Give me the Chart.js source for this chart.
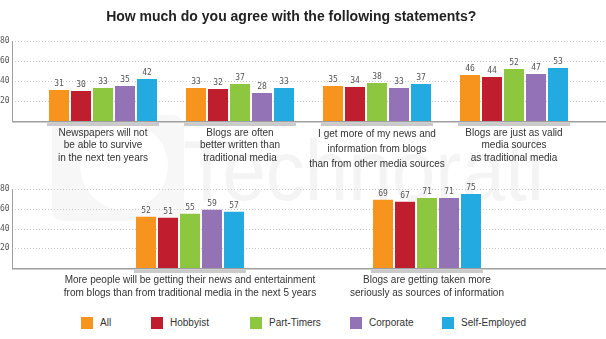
<!DOCTYPE html>
<html>
<head>
<meta charset="utf-8">
<script src="https://cdn.jsdelivr.net/npm/chart.js"></script>
<style>
  body { margin: 0; background: #fff; width: 606px; height: 339px; overflow: hidden; position: relative;
         font-family: "Liberation Sans", Arial, sans-serif; }
  canvas { position: absolute; left: 0; }
  #topChart { top: 0; }
  #bottomChart { top: 172px; }
  .mark { position: absolute; color: #f4f4f4; }
  #markText { left: 183px; top: 127px; font-size: 86px; line-height: 1; transform: scaleX(0.91); transform-origin: left top; }
  #markBox { left: 52px; top: 115px; width: 132px; height: 106px; border-radius: 12px; background: #f7f7f7; }
  #markHole { left: 80px; top: 122px; width: 88px; height: 88px; border-radius: 50%; background: #fff; }
  #legend { position: absolute; left: 0; top: 317px; width: 606px; height: 14px; font-size: 10px; color: #333; }
  .item { position: absolute; top: 0; height: 12px; line-height: 12px; white-space: nowrap; }
  .swatch { display: inline-block; width: 12px; height: 12px; vertical-align: top; margin-right: 7px; }
</style>
</head>
<body>
<div class="mark" id="markBox"></div>
<div class="mark" id="markHole"></div>
<div class="mark" id="markText">Technorati</div>
<canvas id="topChart" width="606" height="172"></canvas>
<canvas id="bottomChart" width="606" height="133"></canvas>
<div id="legend"></div>
<script>
// respondent groups
var groups = ["All", "Hobbyist", "Part-Timers", "Corporate", "Self-Employed"];
var groupColors = ["#F7941E", "#BE1E2D", "#8DC63F", "#9372B6", "#23AAE1"];

// statements shown in the upper row
var topStatements = [
  ["Newspapers will not", "be able to survive", "in the next ten years"],
  ["Blogs are often", "better written than", "traditional media"],
  ["I get more of my news and", "information from blogs", "than from other media sources"],
  ["Blogs are just as valid", "media sources", "as traditional media"]
];
var allTop = [31, 33, 35, 46];
var hobbyistTop = [30, 32, 34, 44];
var partTimersTop = [33, 37, 38, 52];
var corporateTop = [35, 28, 33, 47];
var selfEmployedTop = [42, 33, 37, 53];

// statements shown in the lower row
var bottomStatements = [
  ["More people will be getting their news and entertainment", "from blogs than from traditional media in the next 5 years"],
  ["Blogs are getting taken more", "seriously as sources of information"]
];
var allBottom = [52, 69];
var hobbyistBottom = [51, 67];
var partTimersBottom = [55, 71];
var corporateBottom = [59, 71];
var selfEmployedBottom = [57, 75];

var yTicks = [20, 40, 60, 80];

// legend item left edges
var legendX = [81, 151, 250, 350, 442];

var AXIS_X = 12;

// dotted grid, axis lines, group underlines and value labels
var panelDecor = {
  id: 'panelDecor',
  beforeDatasetsDraw: function(chart) {
    var ctx = chart.ctx, y = chart.scales.y, right = chart.width;
    var base = y.getPixelForValue(0);
    ctx.save();
    ctx.strokeStyle = '#cccccc';
    ctx.lineWidth = 1;
    ctx.setLineDash([1, 2]);
    yTicks.forEach(function(v) {
      var py = Math.round(y.getPixelForValue(v)) + 0.5;
      ctx.beginPath(); ctx.moveTo(AXIS_X, py); ctx.lineTo(right, py); ctx.stroke();
    });
    ctx.setLineDash([]);
    ctx.strokeStyle = '#9f9f9f';
    ctx.beginPath();
    ctx.moveTo(AXIS_X + 0.5, y.getPixelForValue(yTicks[yTicks.length - 1]));
    ctx.lineTo(AXIS_X + 0.5, base);
    ctx.stroke();
    ctx.lineWidth = 1.5;
    ctx.beginPath(); ctx.moveTo(AXIS_X, base + 0.75); ctx.lineTo(right, base + 0.75); ctx.stroke();
    ctx.restore();
  },
  afterDatasetsDraw: function(chart) {
    var ctx = chart.ctx, base = chart.scales.y.getPixelForValue(0);
    var first = chart.getDatasetMeta(0).data;
    var last = chart.getDatasetMeta(chart.data.datasets.length - 1).data;
    ctx.save();
    ctx.fillStyle = '#cacaca';
    first.forEach(function(bar, i) {
      var l = bar.x - bar.width / 2 - 2, r = last[i].x + last[i].width / 2 + 2;
      ctx.fillRect(l, base + 2, r - l, 3);
    });
    ctx.font = '8px "DejaVu Sans Mono", monospace';
    ctx.fillStyle = '#555';
    ctx.textAlign = 'center';
    ctx.textBaseline = 'bottom';
    chart.data.datasets.forEach(function(ds, d) {
      chart.getDatasetMeta(d).data.forEach(function(bar, i) {
        ctx.fillText(ds.data[i], bar.x, bar.y - 2);
      });
    });
    ctx.restore();
  }
};

function makeDatasets(rows, catPct) {
  return rows.map(function(values, i) {
    return {
      label: groups[i],
      data: values,
      backgroundColor: groupColors[i],
      borderWidth: 0,
      categoryPercentage: catPct,
      barPercentage: 0.91
    };
  });
}

function makeOptions(cfg) {
  return {
    responsive: false,
    animation: false,
    layout: { padding: { top: cfg.padTop, right: cfg.padRight, left: 0, bottom: 0 } },
    plugins: {
      legend: { display: false },
      tooltip: { enabled: false },
      title: cfg.title
    },
    scales: {
      x: {
        grid: { display: false, drawTicks: false },
        border: { display: false },
        afterFit: function(scale) { scale.height = cfg.xHeight; },
        ticks: {
          autoSkip: false,
          maxRotation: 0,
          padding: 5.5,
          color: '#333',
          font: function(c) {
            return { family: '"Liberation Sans", Arial, sans-serif', size: 10, lineHeight: cfg.lineHeights[c.index] || 1.27 };
          }
        }
      },
      y: {
        min: 0,
        max: 80,
        grid: { display: false, drawTicks: false },
        border: { display: false },
        afterFit: function(scale) { scale.width = cfg.yWidth; },
        ticks: {
          stepSize: 20,
          padding: 0,
          crossAlign: 'far',
          color: '#555',
          font: { family: '"DejaVu Sans Mono", monospace', size: 8 },
          callback: function(v) { return v === 0 ? '' : v; }
        }
      }
    }
  };
}

new Chart(document.getElementById('topChart'), {
  type: 'bar',
  data: {
    labels: topStatements,
    datasets: makeDatasets([allTop, hobbyistTop, partTimersTop, corporateTop, selfEmployedTop], 0.803)
  },
  options: makeOptions({
    padTop: 0, padRight: 23.5, yWidth: 34.5, xHeight: 51,
    lineHeights: [1.27, 1.27, 1.5, 1.27],
    title: {
      display: true,
      text: 'How much do you agree with the following statements?',
      color: '#222',
      font: { family: '"Liberation Sans", Arial, sans-serif', size: 14, weight: 'bold' },
      padding: { top: 8.6, bottom: 15.6 }
    }
  }),
  plugins: [panelDecor]
});

new Chart(document.getElementById('bottomChart'), {
  type: 'bar',
  data: {
    labels: bottomStatements,
    datasets: makeDatasets([allBottom, hobbyistBottom, partTimersBottom, corporateBottom, selfEmployedBottom], 0.464)
  },
  options: makeOptions({
    padTop: 17, padRight: 60.5, yWidth: 71.5, xHeight: 37,
    lineHeights: [1.3, 1.3],
    title: { display: false }
  }),
  plugins: [panelDecor]
});

// legend row
var legend = document.getElementById('legend');
groups.forEach(function(name, i) {
  var item = document.createElement('div');
  item.className = 'item';
  item.style.left = legendX[i] + 'px';
  var sw = document.createElement('span');
  sw.className = 'swatch';
  sw.style.background = groupColors[i];
  item.appendChild(sw);
  item.appendChild(document.createTextNode(name));
  legend.appendChild(item);
});
</script>
</body>
</html>
